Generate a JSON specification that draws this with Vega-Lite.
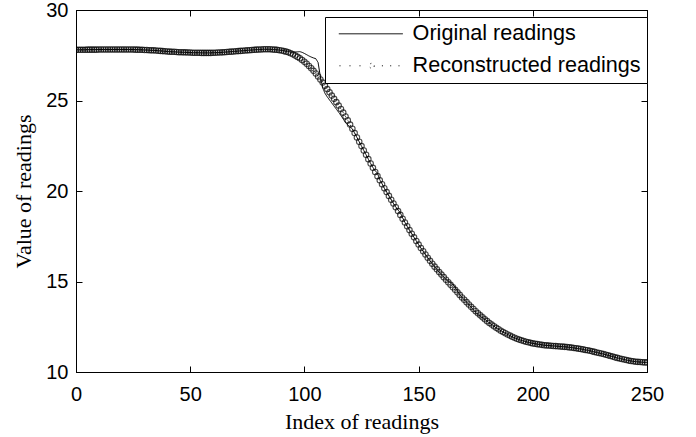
{
  "$schema": "https://vega.github.io/schema/vega-lite/v6.json",
  "autosize": "none",
  "width": 571,
  "height": 362,
  "padding": {"left": 76, "top": 10, "right": 49, "bottom": 65},
  "background": "white",
  "config": {
    "view": {"stroke": "black", "strokeWidth": 1},
    "axis": {
      "grid": false,
      "domainColor": "black",
      "tickColor": "black",
      "tickSize": -6,
      "labelFont": "Liberation Sans",
      "labelFontSize": 20,
      "labelColor": "black",
      "labelFlush": false,
      "labelOverlap": false,
      "labelBound": false,
      "titleFont": "Liberation Serif",
      "titleFontSize": 22,
      "titleFontWeight": "normal",
      "titleColor": "black"
    }
  },
  "data": {"values": [
{"i":0,"o":27.80,"r":27.80},{"i":1,"o":27.80,"r":27.80},{"i":2,"o":27.80,"r":27.80},{"i":3,"o":27.80,"r":27.80},{"i":4,"o":27.80,"r":27.80},
{"i":5,"o":27.81,"r":27.81},{"i":6,"o":27.81,"r":27.81},{"i":7,"o":27.81,"r":27.81},{"i":8,"o":27.81,"r":27.81},{"i":9,"o":27.81,"r":27.81},
{"i":10,"o":27.82,"r":27.82},{"i":11,"o":27.82,"r":27.82},{"i":12,"o":27.82,"r":27.82},{"i":13,"o":27.82,"r":27.82},{"i":14,"o":27.82,"r":27.82},
{"i":15,"o":27.82,"r":27.82},{"i":16,"o":27.82,"r":27.82},{"i":17,"o":27.82,"r":27.82},{"i":18,"o":27.82,"r":27.82},{"i":19,"o":27.82,"r":27.82},
{"i":20,"o":27.82,"r":27.82},{"i":21,"o":27.82,"r":27.82},{"i":22,"o":27.82,"r":27.82},{"i":23,"o":27.82,"r":27.82},{"i":24,"o":27.82,"r":27.82},
{"i":25,"o":27.82,"r":27.82},{"i":26,"o":27.81,"r":27.81},{"i":27,"o":27.81,"r":27.81},{"i":28,"o":27.80,"r":27.80},{"i":29,"o":27.80,"r":27.80},
{"i":30,"o":27.79,"r":27.79},{"i":31,"o":27.79,"r":27.79},{"i":32,"o":27.78,"r":27.78},{"i":33,"o":27.77,"r":27.77},{"i":34,"o":27.77,"r":27.77},
{"i":35,"o":27.76,"r":27.76},{"i":36,"o":27.75,"r":27.75},{"i":37,"o":27.74,"r":27.74},{"i":38,"o":27.73,"r":27.73},{"i":39,"o":27.72,"r":27.72},
{"i":40,"o":27.71,"r":27.71},{"i":41,"o":27.70,"r":27.70},{"i":42,"o":27.69,"r":27.69},{"i":43,"o":27.69,"r":27.69},{"i":44,"o":27.68,"r":27.68},
{"i":45,"o":27.67,"r":27.67},{"i":46,"o":27.67,"r":27.67},{"i":47,"o":27.66,"r":27.66},{"i":48,"o":27.66,"r":27.66},{"i":49,"o":27.65,"r":27.65},
{"i":50,"o":27.65,"r":27.65},{"i":51,"o":27.64,"r":27.64},{"i":52,"o":27.64,"r":27.64},{"i":53,"o":27.64,"r":27.64},{"i":54,"o":27.64,"r":27.64},
{"i":55,"o":27.63,"r":27.63},{"i":56,"o":27.63,"r":27.63},{"i":57,"o":27.63,"r":27.63},{"i":58,"o":27.63,"r":27.63},{"i":59,"o":27.63,"r":27.63},
{"i":60,"o":27.64,"r":27.64},{"i":61,"o":27.64,"r":27.64},{"i":62,"o":27.65,"r":27.65},{"i":63,"o":27.65,"r":27.65},{"i":64,"o":27.66,"r":27.66},
{"i":65,"o":27.67,"r":27.67},{"i":66,"o":27.68,"r":27.68},{"i":67,"o":27.69,"r":27.69},{"i":68,"o":27.70,"r":27.70},{"i":69,"o":27.71,"r":27.71},
{"i":70,"o":27.72,"r":27.72},{"i":71,"o":27.73,"r":27.73},{"i":72,"o":27.74,"r":27.74},{"i":73,"o":27.75,"r":27.75},{"i":74,"o":27.76,"r":27.76},
{"i":75,"o":27.77,"r":27.77},{"i":76,"o":27.78,"r":27.78},{"i":77,"o":27.79,"r":27.79},{"i":78,"o":27.80,"r":27.80},{"i":79,"o":27.81,"r":27.81},
{"i":80,"o":27.82,"r":27.82},{"i":81,"o":27.82,"r":27.82},{"i":82,"o":27.83,"r":27.83},{"i":83,"o":27.83,"r":27.83},{"i":84,"o":27.83,"r":27.83},
{"i":85,"o":27.83,"r":27.83},{"i":86,"o":27.82,"r":27.82},{"i":87,"o":27.81,"r":27.81},{"i":88,"o":27.80,"r":27.80},{"i":89,"o":27.79,"r":27.78},
{"i":90,"o":27.77,"r":27.76},{"i":91,"o":27.75,"r":27.73},{"i":92,"o":27.73,"r":27.70},{"i":93,"o":27.71,"r":27.66},{"i":94,"o":27.68,"r":27.61},
{"i":95,"o":27.66,"r":27.55},{"i":96,"o":27.68,"r":27.48},{"i":97,"o":27.69,"r":27.41},{"i":98,"o":27.70,"r":27.33},{"i":99,"o":27.66,"r":27.24},
{"i":100,"o":27.60,"r":27.14},{"i":101,"o":27.53,"r":27.03},{"i":102,"o":27.46,"r":26.91},{"i":103,"o":27.40,"r":26.78},{"i":104,"o":27.35,"r":26.64},
{"i":105,"o":27.31,"r":26.49},{"i":106,"o":27.10,"r":26.33},{"i":107,"o":26.30,"r":26.16},{"i":108,"o":25.70,"r":25.99},{"i":109,"o":25.40,"r":25.81},
{"i":110,"o":25.20,"r":25.63},{"i":111,"o":25.03,"r":25.45},{"i":112,"o":24.86,"r":25.27},{"i":113,"o":24.69,"r":25.09},{"i":114,"o":24.52,"r":24.91},
{"i":115,"o":24.35,"r":24.72},{"i":116,"o":24.17,"r":24.53},{"i":117,"o":23.98,"r":24.33},{"i":118,"o":23.78,"r":24.12},{"i":119,"o":23.65,"r":23.90},
{"i":120,"o":23.55,"r":23.67},{"i":121,"o":23.42,"r":23.44},{"i":122,"o":23.20,"r":23.20},{"i":123,"o":22.96,"r":22.96},{"i":124,"o":22.72,"r":22.72},
{"i":125,"o":22.48,"r":22.48},{"i":126,"o":22.24,"r":22.24},{"i":127,"o":22.00,"r":22.00},{"i":128,"o":21.76,"r":21.76},{"i":129,"o":21.52,"r":21.52},
{"i":130,"o":21.30,"r":21.28},{"i":131,"o":21.12,"r":21.05},{"i":132,"o":20.98,"r":20.82},{"i":133,"o":20.62,"r":20.59},{"i":134,"o":20.40,"r":20.37},
{"i":135,"o":20.15,"r":20.15},{"i":136,"o":19.94,"r":19.94},{"i":137,"o":19.73,"r":19.73},{"i":138,"o":19.52,"r":19.52},{"i":139,"o":19.31,"r":19.31},
{"i":140,"o":19.12,"r":19.10},{"i":141,"o":18.95,"r":18.89},{"i":142,"o":18.80,"r":18.68},{"i":143,"o":18.52,"r":18.47},{"i":144,"o":18.27,"r":18.26},
{"i":145,"o":18.05,"r":18.05},{"i":146,"o":17.84,"r":17.84},{"i":147,"o":17.64,"r":17.64},{"i":148,"o":17.44,"r":17.44},{"i":149,"o":17.24,"r":17.24},
{"i":150,"o":17.04,"r":17.04},{"i":151,"o":16.85,"r":16.85},{"i":152,"o":16.67,"r":16.67},{"i":153,"o":16.49,"r":16.49},{"i":154,"o":16.31,"r":16.31},
{"i":155,"o":16.14,"r":16.14},{"i":156,"o":15.98,"r":15.98},{"i":157,"o":15.82,"r":15.82},{"i":158,"o":15.67,"r":15.67},{"i":159,"o":15.52,"r":15.52},
{"i":160,"o":15.38,"r":15.38},{"i":161,"o":15.24,"r":15.24},{"i":162,"o":15.12,"r":15.10},{"i":163,"o":15.02,"r":14.96},{"i":164,"o":14.95,"r":14.82},
{"i":165,"o":14.85,"r":14.68},{"i":166,"o":14.68,"r":14.54},{"i":167,"o":14.48,"r":14.40},{"i":168,"o":14.28,"r":14.26},{"i":169,"o":14.12,"r":14.12},
{"i":170,"o":13.99,"r":13.99},{"i":171,"o":13.86,"r":13.86},{"i":172,"o":13.73,"r":13.73},{"i":173,"o":13.58,"r":13.60},{"i":174,"o":13.44,"r":13.48},
{"i":175,"o":13.30,"r":13.36},{"i":176,"o":13.17,"r":13.24},{"i":177,"o":13.08,"r":13.13},{"i":178,"o":13.00,"r":13.02},{"i":179,"o":12.91,"r":12.91},
{"i":180,"o":12.81,"r":12.81},{"i":181,"o":12.71,"r":12.71},{"i":182,"o":12.62,"r":12.62},{"i":183,"o":12.53,"r":12.53},{"i":184,"o":12.44,"r":12.44},
{"i":185,"o":12.36,"r":12.36},{"i":186,"o":12.28,"r":12.28},{"i":187,"o":12.21,"r":12.21},{"i":188,"o":12.14,"r":12.14},{"i":189,"o":12.07,"r":12.07},
{"i":190,"o":12.01,"r":12.01},{"i":191,"o":11.95,"r":11.95},{"i":192,"o":11.89,"r":11.89},{"i":193,"o":11.84,"r":11.84},{"i":194,"o":11.79,"r":11.79},
{"i":195,"o":11.75,"r":11.75},{"i":196,"o":11.71,"r":11.71},{"i":197,"o":11.67,"r":11.67},{"i":198,"o":11.64,"r":11.64},{"i":199,"o":11.61,"r":11.61},
{"i":200,"o":11.58,"r":11.58},{"i":201,"o":11.56,"r":11.56},{"i":202,"o":11.54,"r":11.54},{"i":203,"o":11.52,"r":11.52},{"i":204,"o":11.50,"r":11.50},
{"i":205,"o":11.48,"r":11.48},{"i":206,"o":11.47,"r":11.47},{"i":207,"o":11.46,"r":11.46},{"i":208,"o":11.45,"r":11.45},{"i":209,"o":11.44,"r":11.44},
{"i":210,"o":11.43,"r":11.43},{"i":211,"o":11.42,"r":11.42},{"i":212,"o":11.41,"r":11.41},{"i":213,"o":11.40,"r":11.40},{"i":214,"o":11.39,"r":11.39},
{"i":215,"o":11.38,"r":11.38},{"i":216,"o":11.36,"r":11.36},{"i":217,"o":11.35,"r":11.35},{"i":218,"o":11.33,"r":11.33},{"i":219,"o":11.31,"r":11.31},
{"i":220,"o":11.29,"r":11.29},{"i":221,"o":11.27,"r":11.27},{"i":222,"o":11.25,"r":11.25},{"i":223,"o":11.22,"r":11.22},{"i":224,"o":11.20,"r":11.20},
{"i":225,"o":11.17,"r":11.17},{"i":226,"o":11.14,"r":11.14},{"i":227,"o":11.11,"r":11.11},{"i":228,"o":11.08,"r":11.08},{"i":229,"o":11.05,"r":11.05},
{"i":230,"o":11.02,"r":11.02},{"i":231,"o":10.99,"r":10.99},{"i":232,"o":10.95,"r":10.95},{"i":233,"o":10.92,"r":10.92},{"i":234,"o":10.88,"r":10.88},
{"i":235,"o":10.85,"r":10.85},{"i":236,"o":10.81,"r":10.81},{"i":237,"o":10.78,"r":10.78},{"i":238,"o":10.75,"r":10.75},{"i":239,"o":10.72,"r":10.72},
{"i":240,"o":10.69,"r":10.69},{"i":241,"o":10.66,"r":10.66},{"i":242,"o":10.63,"r":10.63},{"i":243,"o":10.61,"r":10.61},{"i":244,"o":10.59,"r":10.59},
{"i":245,"o":10.57,"r":10.57},{"i":246,"o":10.56,"r":10.56},{"i":247,"o":10.55,"r":10.55},{"i":248,"o":10.54,"r":10.54},{"i":249,"o":10.53,"r":10.53},
{"i":250,"o":10.53,"r":10.53}
  ]},
  "resolve": {"axis": {"x": "independent", "y": "independent"}},
  "layer": [
    {
      "transform": [{"fold": ["o", "r"], "as": ["s", "v"]}],
      "mark": {"type": "line", "strokeWidth": 1, "color": "black", "clip": true},
      "encoding": {
        "x": {"field": "i", "type": "quantitative", "scale": {"domain": [0, 250], "nice": false, "zero": false},
              "axis": {"title": "Index of readings", "values": [0, 50, 100, 150, 200, 250], "labelPadding": 18, "titlePadding": 7}},
        "y": {"field": "v", "type": "quantitative", "scale": {"domain": [10, 30], "nice": false, "zero": false},
              "axis": {"title": "Value of readings", "values": [10, 15, 20, 25, 30], "labelPadding": 14, "titlePadding": 10}},
        "detail": {"field": "s"},
        "strokeDash": {
          "field": "s", "type": "nominal",
          "scale": {"domain": ["o", "r"], "range": [[1, 0], [1, 4]]},
          "legend": {
            "title": null,
            "orient": "none",
            "legendX": 249,
            "legendY": 7,
            "padding": 6,
            "fillColor": "white",
            "strokeColor": "black",
            "cornerRadius": 0,
            "symbolSize": 400,
            "symbolStrokeWidth": 1,
            "symbolStrokeColor": "black",
            "symbolType": "stroke",
            "labelFont": "Liberation Sans",
            "labelFontSize": 21.6,
            "labelColor": "black",
            "labelOffset": 60,
            "labelLimit": 400,
            "rowPadding": 9,
            "labelExpr": "datum.value == 'o' ? 'Original readings' : 'Reconstructed readings'",
            "encode": {
              "symbols": {
                "update": {
                  "shape": {"signal": "datum.value == 'o' ? 'M-0.3,0H6.1' : 'M-0.23,0h0.12M0.77,0h0.12M1.77,0h0.12M4.01,0h0.12M4.84,0h0.12M5.67,0h0.12M3.25,0A0.25,0.25 0 1 1 2.75,0A0.25,0.25 0 1 1 3.25,0'"},
                  "strokeDash": {"value": [1, 0]},
                  "fill": {"value": "transparent"},
                  "stroke": {"value": "black"}
                }
              }
            }
          }
        }
      }
    },
    {
      "mark": {"type": "point", "shape": "circle", "filled": false, "stroke": "black", "strokeWidth": 1.1, "size": 30, "clip": true},
      "encoding": {
        "x": {"field": "i", "type": "quantitative", "scale": {"domain": [0, 250], "nice": false, "zero": false},
              "axis": {"orient": "top", "title": null, "labels": false, "values": [0, 50, 100, 150, 200, 250]}},
        "y": {"field": "r", "type": "quantitative", "scale": {"domain": [10, 30], "nice": false, "zero": false},
              "axis": {"orient": "right", "title": null, "labels": false, "values": [10, 15, 20, 25, 30]}}
      }
    }
  ]
}
